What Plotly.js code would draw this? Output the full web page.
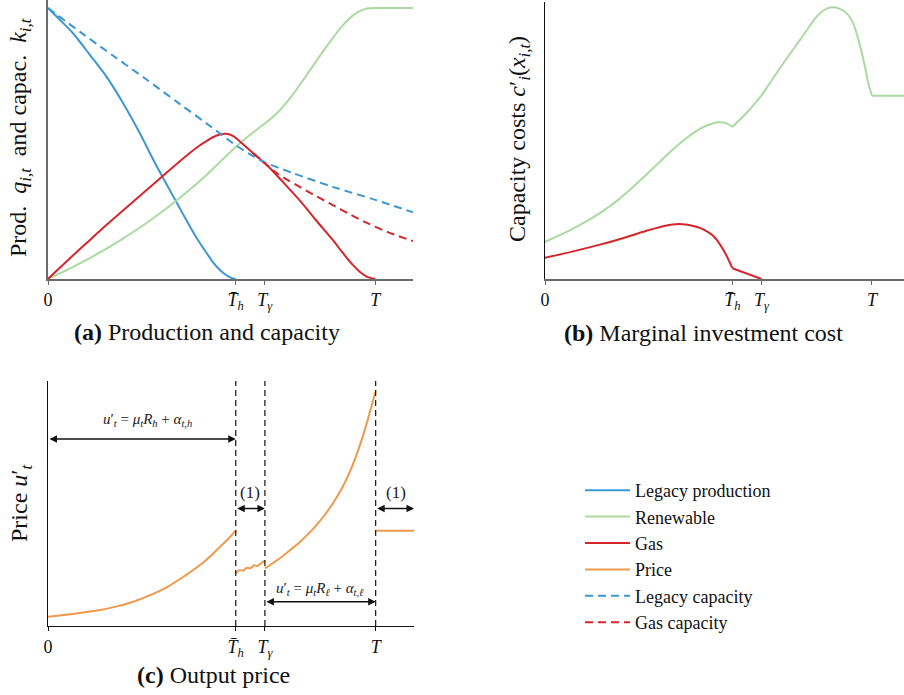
<!DOCTYPE html>
<html><head><meta charset="utf-8">
<script src="https://cdn.plot.ly/plotly-3.0.1.min.js"></script>
<style>html,body{margin:0;padding:0;background:#fff}#chart{width:904px;height:695px}</style>
</head><body><div id="chart"></div>
<script>
// Key time points (T = 1)
const T_H = 0.573, T_G = 0.662, T_END = 1.0;
const tickVals = [0, T_H, T_G, T_END];
const tickText = ['0', '<i>T\u0304</i><sub><i>h</i></sub>', '<i>T</i><sub><i>γ</i></sub>', '<i>T</i>'];

// Panel (a): production and capacity
const legacyProdX = [0, 0.04, 0.077, 0.128, 0.179, 0.23, 0.281, 0.322, 0.352, 0.383, 0.41, 0.434, 0.46, 0.485, 0.505, 0.525, 0.545, 0.56, 0.573];
const legacyProdY = [1.0, 0.952, 0.906, 0.827, 0.746, 0.648, 0.537, 0.439, 0.372, 0.304, 0.245, 0.193, 0.14, 0.095, 0.06, 0.033, 0.014, 0.004, 0.0];
const legacyCapX = [0, 0.1, 0.2, 0.3, 0.4, 0.5, 0.566, 0.62, 0.66, 0.75, 0.87, 1.0, 1.115];
const legacyCapY = [1.0, 0.91, 0.823, 0.737, 0.648, 0.56, 0.50, 0.458, 0.432, 0.39, 0.34, 0.292, 0.246];
const gasProdX = [0, 0.04, 0.077, 0.13, 0.179, 0.23, 0.281, 0.32, 0.352, 0.40, 0.434, 0.46, 0.485, 0.505, 0.525, 0.545, 0.566, 0.595, 0.626, 0.669, 0.72, 0.769, 0.82, 0.87, 0.90, 0.931, 0.955, 0.975, 1.0];
const gasProdY = [0, 0.046, 0.088, 0.146, 0.2, 0.254, 0.307, 0.348, 0.382, 0.432, 0.466, 0.49, 0.51, 0.524, 0.533, 0.536, 0.527, 0.498, 0.465, 0.42, 0.355, 0.29, 0.215, 0.144, 0.097, 0.052, 0.024, 0.008, 0.0];
const gasCapX = [0.626, 0.669, 0.699, 0.735, 0.769, 0.82, 0.87, 0.92, 0.974, 1.04, 1.115];
const gasCapY = [0.465, 0.42, 0.391, 0.363, 0.34, 0.305, 0.273, 0.24, 0.207, 0.172, 0.14];
const renewAX = [0, 0.04, 0.077, 0.13, 0.179, 0.23, 0.281, 0.335, 0.388, 0.435, 0.485, 0.53, 0.576, 0.62, 0.669, 0.695, 0.718, 0.745, 0.769, 0.82, 0.87, 0.90, 0.931, 0.955, 0.975, 1.0, 1.115];
const renewAY = [0, 0.023, 0.045, 0.079, 0.112, 0.15, 0.19, 0.236, 0.285, 0.332, 0.385, 0.437, 0.49, 0.535, 0.58, 0.607, 0.636, 0.676, 0.716, 0.805, 0.89, 0.935, 0.972, 0.99, 0.998, 1.0, 1.0];

// Panel (b): marginal investment cost (null separates kinked segments)
const renewBX = [0, 0.08, 0.168, 0.22, 0.269, 0.32, 0.373, 0.405, 0.434, 0.465, 0.495, 0.529, 0.557, 0.573, null,
                 0.573, 0.617, 0.662, null,
                 0.662, 0.695, 0.729, 0.78, 0.831, 0.855, 0.877, 0.9, 0.923, 0.94, 0.953, 0.965, 0.978, 0.989, 1.0, null,
                 1.0, 1.098];
const renewBY = [0.134, 0.178, 0.238, 0.282, 0.332, 0.388, 0.448, 0.482, 0.51, 0.536, 0.554, 0.566, 0.561, 0.549, null,
                 0.549, 0.60, 0.662, null,
                 0.662, 0.72, 0.779, 0.863, 0.947, 0.972, 0.981, 0.976, 0.959, 0.93, 0.887, 0.835, 0.77, 0.706, 0.662, null,
                 0.662, 0.662];
const gasBX = [0, 0.08, 0.168, 0.22, 0.27, 0.31, 0.35, 0.38, 0.40, 0.42, 0.44, 0.47, 0.494, 0.515, 0.535, 0.555, 0.573, null, 0.573, 0.662];
const gasBY = [0.077, 0.098, 0.124, 0.141, 0.159, 0.174, 0.187, 0.195, 0.198, 0.198, 0.195, 0.186, 0.173, 0.155, 0.125, 0.085, 0.039, null, 0.039, 0.0];

// Panel (c): output price
const priceX = [0, 0.08, 0.159, 0.21, 0.26, 0.31, 0.362, 0.41, 0.464, 0.5, 0.525, 0.55, 0.573, null,
                0.573, 0.585, 0.595, 0.607, 0.617, 0.63, 0.64, 0.652, 0.662, null,
                0.662, 0.69, 0.718, 0.745, 0.769, 0.795, 0.82, 0.845, 0.871, 0.897, 0.922, 0.948, 0.973, 1.0, null,
                1.0, 1.117];
const priceY = [0.038, 0.05, 0.065, 0.08, 0.099, 0.125, 0.158, 0.198, 0.249, 0.29, 0.324, 0.355, 0.389, null,
                0.215, 0.228, 0.226, 0.238, 0.235, 0.248, 0.245, 0.258, 0.267, null,
                0.235, 0.26, 0.287, 0.316, 0.343, 0.377, 0.413, 0.454, 0.504, 0.562, 0.632, 0.723, 0.828, 0.96, null,
                0.389, 0.389];

const BLUE = '#3d97d3', GREEN = '#a9dba0', RED = '#d6262b', ORANGE = '#f0994a';
const SERIF = 'Liberation Serif, Times New Roman, serif';
const W = 904, H = 695;
const px = v => v / W, py = v => 1 - v / H;

const lw = 2;
const sm = 0.8;
const traces = [
  {x: legacyProdX, y: legacyProdY, name: 'Legacy production', mode: 'lines', line: {color: BLUE, width: lw, shape: 'spline', smoothing: sm}, xaxis: 'x', yaxis: 'y'},
  {x: renewAX, y: renewAY, name: 'Renewable', mode: 'lines', line: {color: GREEN, width: lw, shape: 'spline', smoothing: sm}, xaxis: 'x', yaxis: 'y'},
  {x: gasProdX, y: gasProdY, name: 'Gas', mode: 'lines', line: {color: RED, width: lw, shape: 'spline', smoothing: sm}, xaxis: 'x', yaxis: 'y'},
  {x: priceX, y: priceY, name: 'Price', mode: 'lines', line: {color: ORANGE, width: lw, shape: 'spline', smoothing: 0.6}, xaxis: 'x3', yaxis: 'y3'},
  {x: legacyCapX, y: legacyCapY, name: 'Legacy capacity', mode: 'lines', line: {color: BLUE, width: lw, dash: '8px,5px', shape: 'spline', smoothing: sm}, xaxis: 'x', yaxis: 'y'},
  {x: gasCapX, y: gasCapY, name: 'Gas capacity', mode: 'lines', line: {color: RED, width: lw, dash: '8px,5px', shape: 'spline', smoothing: sm}, xaxis: 'x', yaxis: 'y'},
  {x: renewBX, y: renewBY, name: 'Renewable', showlegend: false, mode: 'lines', line: {color: GREEN, width: lw, shape: 'spline', smoothing: sm}, xaxis: 'x2', yaxis: 'y2'},
  {x: gasBX, y: gasBY, name: 'Gas', showlegend: false, mode: 'lines', line: {color: RED, width: lw, shape: 'spline', smoothing: sm}, xaxis: 'x2', yaxis: 'y2'}
];

const tickFont = {family: SERIF, size: 18, color: '#111'};
function xAx(domain, range, anchor, color, width) {
  return {domain, range, anchor, showline: true, linecolor: color, linewidth: width,
    ticks: 'outside', ticklen: 4, tickcolor: color, tickwidth: 1,
    tickmode: 'array', tickvals: tickVals, ticktext: tickText, tickfont: tickFont,
    showgrid: false, zeroline: false, fixedrange: true};
}
function yAx(domain, range, anchor, color, width) {
  return {domain, range, anchor, showline: true, linecolor: color, linewidth: width,
    ticks: '', showticklabels: false, showgrid: false, zeroline: false, fixedrange: true};
}

const vlines = [T_H, T_G, T_END].map(t => ({type: 'line', xref: 'x3', yref: 'y3', x0: t, x1: t, y0: 0, y1: 1,
  line: {color: '#111', width: 1.2, dash: '6px,4px'}}));

function arrow(x0, x1, y) {
  return {xref: 'x3', yref: 'y3', axref: 'x3', ayref: 'y3', x: x1, y: y, ax: x0, ay: y, text: '',
    showarrow: true, arrowhead: 2, startarrowhead: 2, arrowside: 'end+start', arrowsize: 1,
    startarrowsize: 1, arrowwidth: 1.5, arrowcolor: '#111', standoff: 0, startstandoff: 0};
}
const mathFont = {family: SERIF, size: 15, color: '#222'};
const bigFont = {family: SERIF, size: 24, color: '#111'};
const C = {xanchor: 'center', yanchor: 'middle', showarrow: false};
const SP = '\u2002';

const annotations = [
  // captions
  Object.assign({xref: 'paper', yref: 'paper', x: px(207), y: py(332), text: '<b>(a)</b> Production and capacity', font: bigFont}, C),
  Object.assign({xref: 'paper', yref: 'paper', x: px(703), y: py(333), text: '<b>(b)</b> Marginal investment cost', font: bigFont}, C),
  Object.assign({xref: 'paper', yref: 'paper', x: px(213), y: py(675), text: '<b>(c)</b> Output price', font: bigFont}, C),
  // y-axis titles
  Object.assign({xref: 'paper', yref: 'paper', x: px(20), y: py(138), textangle: -90, font: bigFont,
    text: 'Prod.' + SP + '<i>q</i><sub><i>i,t</i></sub>' + SP + 'and capac.' + SP + '<i>k</i><sub><i>i,t</i></sub>'}, C),
  Object.assign({xref: 'paper', yref: 'paper', x: px(519), y: py(139), textangle: -90, font: bigFont,
    text: 'Capacity costs <i>c</i>′<sub><i>i</i></sub>(<i>x</i><sub><i>i,t</i></sub>)'}, C),
  Object.assign({xref: 'paper', yref: 'paper', x: px(21), y: py(503), textangle: -90, font: bigFont,
    text: 'Price <i>u</i>′<sub><i>t</i></sub>'}, C),
  // panel (c) regime labels
  arrow(0, T_H, 0.763),
  arrow(T_H, T_G, 0.48),
  arrow(T_END, 1.117, 0.48),
  arrow(T_G, T_END, 0.099),
  Object.assign({xref: 'x3', yref: 'y3', x: 0.304, y: 0.84, font: mathFont,
    text: '<i>u</i>′<sub><i>t</i></sub> = <i>μ</i><sub><i>t</i></sub><i>R</i><sub><i>h</i></sub> + <i>α</i><sub><i>t,h</i></sub>'}, C),
  Object.assign({xref: 'x3', yref: 'y3', x: 0.83, y: 0.15, font: mathFont,
    text: '<i>u</i>′<sub><i>t</i></sub> = <i>μ</i><sub><i>t</i></sub><i>R</i><sub><i>ℓ</i></sub> + <i>α</i><sub><i>t,ℓ</i></sub>'}, C),
  Object.assign({xref: 'x3', yref: 'y3', x: (T_H + T_G) / 2, y: 0.544, font: {family: SERIF, size: 17, color: '#222'}, text: '(1)'}, C),
  Object.assign({xref: 'x3', yref: 'y3', x: 1.063, y: 0.544, font: {family: SERIF, size: 17, color: '#222'}, text: '(1)'}, C)
];

const layout = {
  width: W, height: H, margin: {l: 0, r: 0, t: 0, b: 0},
  paper_bgcolor: '#fff', plot_bgcolor: 'rgba(0,0,0,0)',
  font: {family: SERIF, color: '#111'},
  xaxis: xAx([px(48), px(413)], [0, 1.115], 'y', '#6b6b6b', 1.8),
  yaxis: yAx([py(279), 1], [0, 279 / 271], 'x', '#6b6b6b', 1.8),
  xaxis2: xAx([px(545), 1], [0, 1.098], 'y2', '#6b6b6b', 1.8),
  yaxis2: yAx([py(279), py(2)], [0, 1], 'x2', '#111', 1.2),
  xaxis3: xAx([px(48), px(414)], [0, 1.117], 'y3', '#111', 1.2),
  yaxis3: yAx([py(626), py(381)], [0, 1], 'x3', '#111', 1.2),
  shapes: vlines,
  annotations: annotations,
  showlegend: true,
  legend: {x: px(580), y: py(472), xanchor: 'left', yanchor: 'top', bgcolor: 'rgba(0,0,0,0)',
    font: {family: SERIF, size: 18, color: '#111'}, itemwidth: 45, tracegroupgap: 0}
};

Plotly.newPlot('chart', traces, layout, {displayModeBar: false, staticPlot: true});
</script></body></html>
